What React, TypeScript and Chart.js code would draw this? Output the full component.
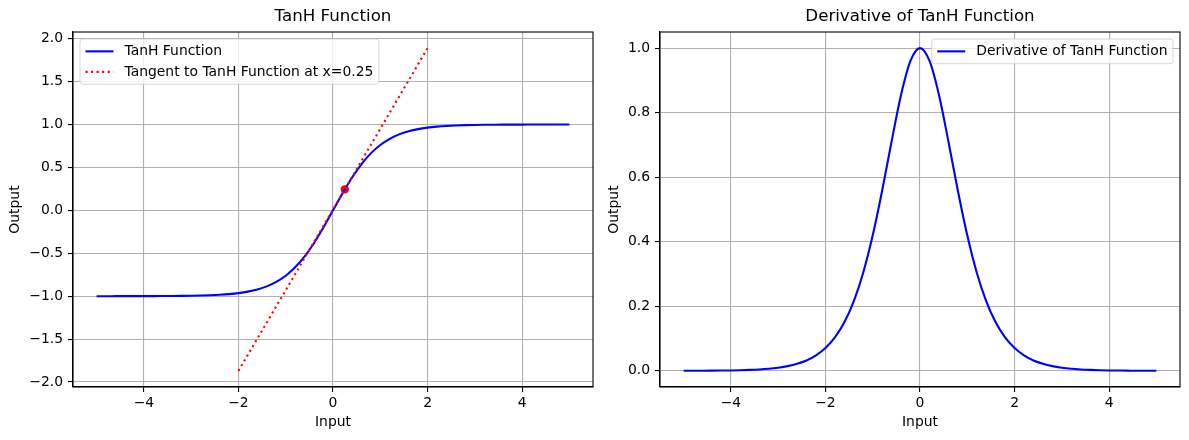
import React, { useEffect, useRef } from 'react';
import { Chart, registerables } from 'chart.js';

Chart.register(...registerables);

// ---- Data ----
const xValues = [
  -5, -4.8, -4.6, -4.4, -4.2, -4, -3.8, -3.6, -3.4, -3.2, -3, -2.8, -2.6, -2.4, -2.2, -2,
  -1.8, -1.6, -1.4, -1.2, -1, -0.8, -0.6, -0.4, -0.2, 0, 0.2, 0.4, 0.6, 0.8, 1, 1.2, 1.4,
  1.6, 1.8, 2, 2.2, 2.4, 2.6, 2.8, 3, 3.2, 3.4, 3.6, 3.8, 4, 4.2, 4.4, 4.6, 4.8, 5,
];
const tanhValues = [
  -0.9999, -0.9999, -0.9998, -0.9997, -0.9996, -0.9993, -0.999, -0.9985, -0.9978, -0.9967,
  -0.9951, -0.9926, -0.989, -0.9837, -0.9757, -0.964, -0.9468, -0.9217, -0.8854, -0.8337,
  -0.7616, -0.664, -0.537, -0.3799, -0.1974, 0, 0.1974, 0.3799, 0.537, 0.664, 0.7616,
  0.8337, 0.8854, 0.9217, 0.9468, 0.964, 0.9757, 0.9837, 0.989, 0.9926, 0.9951, 0.9967,
  0.9978, 0.9985, 0.999, 0.9993, 0.9996, 0.9997, 0.9998, 0.9999, 0.9999,
];
const derivValues = [
  0.0002, 0.0003, 0.0004, 0.0006, 0.0009, 0.0013, 0.002, 0.003, 0.0044, 0.0066, 0.0099,
  0.0147, 0.0219, 0.0323, 0.048, 0.0707, 0.1036, 0.1505, 0.2161, 0.3049, 0.42, 0.5591,
  0.7116, 0.8556, 0.961, 1, 0.961, 0.8556, 0.7116, 0.5591, 0.42, 0.3049, 0.2161, 0.1505,
  0.1036, 0.0707, 0.048, 0.0323, 0.0219, 0.0147, 0.0099, 0.0066, 0.0044, 0.003, 0.002,
  0.0013, 0.0009, 0.0006, 0.0004, 0.0003, 0.0002,
];
const tangentX = [-2, 2];
const tangentY = [-1.87, 1.89];
const pointX = [0.25];
const pointY = [0.245];

const titles = ['TanH Function', 'Derivative of TanH Function'];
const seriesLabels = ['TanH Function', 'Tangent to TanH Function at x=0.25', 'Derivative of TanH Function'];
const xLabel = 'Input';
const yLabel = 'Output';

const FONT = '"DejaVu Sans", sans-serif';
const FS = 13.9;

const fmt = (v: number, digits: number) => {
  const s = Number(v).toFixed(digits);
  return s.startsWith('-') ? '\u2212' + s.slice(1) : s;
};

const framePlugin = {
  id: 'frame',
  afterDatasetsDraw(chart: any) {
    const { ctx, chartArea } = chart;
    ctx.save();
    ctx.strokeStyle = '#000';
    ctx.lineWidth = 1.1;
    ctx.strokeRect(chartArea.left, chartArea.top, chartArea.right - chartArea.left, chartArea.bottom - chartArea.top);
    ctx.restore();
  },
};

const legendPlugin = {
  id: 'boxLegend',
  afterDraw(chart: any, _args: any, opts: any) {
    const { ctx, chartArea } = chart;
    const items = chart.data.datasets.filter((d: any) => d.label);
    ctx.save();
    ctx.font = `${FS}px ${FONT}`;
    const pad = 5.5, handle = 28, gap = 11, rowH = 20.5, textH = 13.7, inset = 7;
    const textW = Math.max(...items.map((d: any) => ctx.measureText(d.label).width));
    const w = pad + handle + gap + textW + pad;
    const h = 2 * pad + textH + (items.length - 1) * rowH;
    const left = opts.align === 'right' ? chartArea.right - inset - w : chartArea.left + inset;
    const top = chartArea.top + inset;
    ctx.beginPath();
    (ctx as any).roundRect(left, top, w, h, 3);
    ctx.fillStyle = 'rgba(255,255,255,0.8)';
    ctx.fill();
    ctx.strokeStyle = 'rgba(204,204,204,0.8)';
    ctx.lineWidth = 1;
    ctx.stroke();
    items.forEach((d: any, i: number) => {
      const cy = top + pad + textH / 2 + i * rowH;
      ctx.beginPath();
      ctx.setLineDash(d.borderDash || []);
      ctx.lineCap = 'butt';
      ctx.strokeStyle = d.borderColor;
      ctx.lineWidth = d.borderWidth;
      ctx.moveTo(left + pad, cy);
      ctx.lineTo(left + pad + handle, cy);
      ctx.stroke();
      ctx.setLineDash([]);
      ctx.fillStyle = '#000';
      ctx.textBaseline = 'middle';
      ctx.textAlign = 'left';
      ctx.fillText(d.label, left + pad + handle + gap, cy + 0.5);
    });
    ctx.restore();
  },
};

function makeOptions(opts: {
  title: string; yMin: number; yMax: number; yStep: number; yWidth: number;
  padRight: number; yTitlePad: number; legendAlign: string;
}) {
  const tickFont = { family: FONT, size: FS };
  const grid = { color: '#b0b0b0', lineWidth: 1.1, tickColor: '#000', tickLength: 5, tickWidth: 1.1 };
  return {
    animation: false,
    responsive: false,
    layout: { padding: { left: 0, right: opts.padRight, top: 0, bottom: 0 } },
    plugins: {
      legend: { display: false },
      tooltip: { enabled: false },
      title: {
        display: true, text: opts.title, color: '#000', fullSize: false,
        font: { family: FONT, size: 16.67, weight: 'normal' },
        padding: { top: 7, bottom: 5 },
      },
      boxLegend: { align: opts.legendAlign },
    },
    scales: {
      x: {
        type: 'linear', min: -5.5, max: 5.5,
        afterFit: (s: any) => { s.height = 53; },
        ticks: {
          stepSize: 2, includeBounds: false, color: '#000', font: tickFont, padding: 3,
          maxRotation: 0, callback: (v: any) => fmt(v, 0),
        },
        grid, border: { color: '#000', width: 1.1 },
        title: {
          display: true, text: xLabel, color: '#000', font: tickFont,
          padding: { top: 0, bottom: 9.5 },
        },
      },
      y: {
        type: 'linear', min: opts.yMin, max: opts.yMax,
        afterFit: (s: any) => { s.width = opts.yWidth; },
        ticks: {
          stepSize: opts.yStep, includeBounds: false, color: '#000', font: tickFont, padding: 5,
          callback: (v: any) => fmt(v, 1),
        },
        grid, border: { color: '#000', width: 1.1 },
        title: {
          display: true, text: yLabel, color: '#000', font: tickFont,
          padding: { top: opts.yTitlePad, bottom: 0 },
        },
      },
    },
  } as any;
}

export default function App() {
  const leftRef = useRef<HTMLCanvasElement>(null);
  const rightRef = useRef<HTMLCanvasElement>(null);

  useEffect(() => {
    const tanhData = xValues.map((x, i) => ({ x, y: tanhValues[i] }));
    const tangentData = tangentX.map((x, i) => ({ x, y: tangentY[i] }));
    const pointData = pointX.map((x, i) => ({ x, y: pointY[i] }));
    const derivData = xValues.map((x, i) => ({ x, y: derivValues[i] }));

    const left = new Chart(leftRef.current!, {
      type: 'line',
      data: {
        datasets: [
          {
            label: seriesLabels[0], data: tanhData, borderColor: '#0000ff', backgroundColor: '#0000ff',
            borderWidth: 2.1, pointRadius: 0, cubicInterpolationMode: 'monotone', order: 2,
          },
          {
            label: seriesLabels[1], data: tangentData, borderColor: '#ff0000', backgroundColor: '#ff0000',
            borderWidth: 2.1, borderDash: [2.1, 3.45], borderCapStyle: 'butt', pointRadius: 0, tension: 0, order: 1,
          },
          {
            type: 'scatter', data: pointData, borderColor: '#ff0000', backgroundColor: '#ff0000',
            pointRadius: 4.2, pointBorderWidth: 0, showLine: false, order: 3,
          } as any,
        ],
      },
      options: makeOptions({
        title: titles[0], yMin: -2.058, yMax: 2.078, yStep: 0.5, yWidth: 73,
        padRight: 7, yTitlePad: 7.2, legendAlign: 'left',
      }),
      plugins: [framePlugin, legendPlugin],
    } as any);

    const right = new Chart(rightRef.current!, {
      type: 'line',
      data: {
        datasets: [
          {
            label: seriesLabels[2], data: derivData, borderColor: '#0000ff', backgroundColor: '#0000ff',
            borderWidth: 2.1, pointRadius: 0, cubicInterpolationMode: 'monotone',
          },
        ],
      },
      options: makeOptions({
        title: titles[1], yMin: -0.05, yMax: 1.05, yStep: 0.2, yWidth: 60,
        padRight: 9, yTitlePad: 5.7, legendAlign: 'right',
      }),
      plugins: [framePlugin, legendPlugin],
    } as any);

    return () => {
      left.destroy();
      right.destroy();
    };
  }, []);

  return (
    <div style={{ position: 'absolute', left: 0, top: 0, width: 1189, height: 440, background: '#fff' }}>
      <canvas ref={leftRef} width={600} height={440}
        style={{ position: 'absolute', left: 0, top: 0, width: 600, height: 440 }} />
      <canvas ref={rightRef} width={589} height={440}
        style={{ position: 'absolute', left: 600, top: 0, width: 589, height: 440 }} />
    </div>
  );
}
